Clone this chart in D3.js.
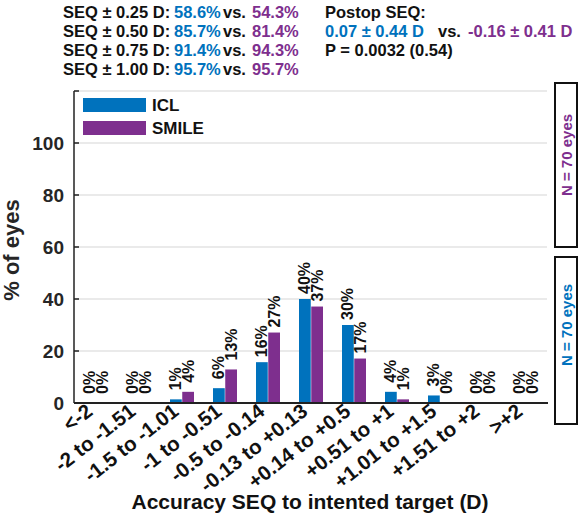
<!DOCTYPE html>
<html>
<head>
<meta charset="utf-8">
<script src="https://cdn.jsdelivr.net/npm/d3@7"></script>
<style>
  body { margin: 0; background: #fff; }
  text { font-family: "Liberation Sans", Arial, sans-serif; font-weight: bold; }
</style>
</head>
<body>
<div id="chart"></div>
<script>
var categories = ["<-2", "-2 to -1.51", "-1.5 to -1.01", "-1 to -0.51", "-0.5 to -0.14",
    "-0.13 to +0.13", "+0.14 to +0.5", "+0.51 to +1", "+1.01 to +1.5", "+1.51 to +2", ">+2"];
var series = ["ICL", "SMILE"];
var icl = [0, 0, 1.4, 5.7, 15.7, 40.0, 30.0, 4.3, 2.9, 0, 0];
var smile = [0, 0, 4.3, 12.9, 27.1, 37.1, 17.1, 1.4, 0, 0, 0];
var yTicks = [0, 20, 40, 60, 80, 100, 120];
var seqRows = [
    ["SEQ \u00b1 0.25 D:", "58.6%", "54.3%"],
    ["SEQ \u00b1 0.50 D:", "85.7%", "81.4%"],
    ["SEQ \u00b1 0.75 D:", "91.4%", "94.3%"],
    ["SEQ \u00b1 1.00 D:", "95.7%", "95.7%"]
];
var postop = ["0.07 \u00b1 0.44 D", "-0.16 \u00b1 0.41 D"];
var pText = "P = 0.0032 (0.54)";
var nText = "N = 70 eyes";

var colors = { ICL: "#0072BD", SMILE: "#7E2F8E" };

var svg = d3.select("#chart").append("svg")
    .attr("width", 581)
    .attr("height", 516);

var x = d3.scaleBand().domain(categories).range([74, 547]).padding(0);
var xs = d3.scaleBand().domain(series).range([0, 24]).paddingInner(0.04);
var xOff = (x.bandwidth() - 24) / 2 + 0.5;
var y = d3.scaleLinear().domain([0, 120]).range([403, 91]);

// gridlines
svg.append("g").selectAll("line")
    .data(yTicks.filter(function (d) { return d > 0; }))
    .enter().append("line")
    .attr("x1", 74).attr("x2", 547)
    .attr("y1", function (d) { return y(d); })
    .attr("y2", function (d) { return y(d); })
    .attr("stroke", "#e3e3e3")
    .attr("stroke-width", 1.5);

// bars
var rows = categories.map(function (c, i) {
    return { cat: c, vals: [{ s: "ICL", v: icl[i] }, { s: "SMILE", v: smile[i] }] };
});

var groups = svg.append("g").selectAll("g")
    .data(rows)
    .enter().append("g")
    .attr("transform", function (d) { return "translate(" + (x(d.cat) + xOff) + ",0)"; });

groups.selectAll("rect")
    .data(function (d) { return d.vals; })
    .enter().append("rect")
    .attr("x", function (d) { return xs(d.s); })
    .attr("width", xs.bandwidth())
    .attr("y", function (d) { return y(d.v); })
    .attr("height", function (d) { return y(0) - y(d.v); })
    .attr("fill", function (d) { return colors[d.s]; });

groups.selectAll("text")
    .data(function (d) { return d.vals; })
    .enter().append("text")
    .attr("transform", function (d) {
        var gap = d.v < 14 ? 9 : 5;
        return "translate(" + (xs(d.s) + xs.bandwidth() / 2) + "," + (y(d.v) - gap) + ") rotate(-90)";
    })
    .attr("dy", "0.35em")
    .attr("text-anchor", "start")
    .style("font-size", "16px")
    .attr("fill", "#111")
    .text(function (d) { return Math.round(d.v) + "%"; });

// axes
var yAxis = svg.append("g");
yAxis.append("line")
    .attr("x1", 74).attr("x2", 74).attr("y1", 91).attr("y2", 403)
    .attr("stroke", "#222").attr("stroke-width", 1.5);
yAxis.selectAll(".tick")
    .data(yTicks)
    .enter().append("line")
    .attr("x1", 74).attr("x2", 79)
    .attr("y1", function (d) { return y(d); })
    .attr("y2", function (d) { return y(d); })
    .attr("stroke", "#222").attr("stroke-width", 1.5);
yAxis.selectAll("text")
    .data(yTicks.filter(function (d) { return d <= 100; }))
    .enter().append("text")
    .attr("x", 64)
    .attr("y", function (d) { return y(d); })
    .attr("dy", "0.36em")
    .attr("text-anchor", "end")
    .style("font-size", "19px")
    .attr("fill", "#262626")
    .text(function (d) { return d; });

svg.append("line")
    .attr("x1", 74).attr("x2", 548).attr("y1", 403).attr("y2", 403)
    .attr("stroke", "#222").attr("stroke-width", 2);

svg.append("g").selectAll("text")
    .data(categories)
    .enter().append("text")
    .attr("transform", function (d) {
        return "translate(" + (x(d) + x.bandwidth() / 2 - 6) + ",408) rotate(-38)";
    })
    .attr("dy", "0.35em")
    .attr("text-anchor", "end")
    .style("font-size", "20.5px")
    .attr("fill", "#111")
    .text(function (d) { return d; });

svg.append("text")
    .attr("transform", "translate(19,250) rotate(-90)")
    .attr("text-anchor", "middle")
    .style("font-size", "22px")
    .attr("fill", "#262626")
    .text("% of eyes");

svg.append("text")
    .attr("x", 310).attr("y", 509)
    .attr("text-anchor", "middle")
    .style("font-size", "21px")
    .attr("fill", "#111")
    .text("Accuracy SEQ to intented target (D)");

// legend
series.forEach(function (s, i) {
    svg.append("rect")
        .attr("x", 83).attr("y", 98 + i * 23)
        .attr("width", 63).attr("height", 14)
        .attr("fill", colors[s]);
    svg.append("text")
        .attr("x", 152).attr("y", 105 + i * 23)
        .attr("dy", "0.36em")
        .style("font-size", "17px")
        .attr("fill", "#111")
        .text(s);
});

// N boxes
var boxes = [{ y0: 83, y1: 247, c: colors.SMILE, ty: 155 }, { y0: 257, y1: 424, c: colors.ICL, ty: 325 }];
boxes.forEach(function (b) {
    svg.append("rect")
        .attr("x", 555).attr("y", b.y0)
        .attr("width", 22).attr("height", b.y1 - b.y0)
        .attr("fill", "none").attr("stroke", "#111").attr("stroke-width", 2);
    svg.append("text")
        .attr("transform", "translate(567," + b.ty + ") rotate(-90)")
        .attr("dy", "0.36em")
        .attr("text-anchor", "middle")
        .style("font-size", "15px")
        .attr("fill", b.c)
        .text(nText);
});

// header stats
var head = svg.append("g").style("font-size", "16.5px");
seqRows.forEach(function (r, i) {
    var by = 18 + i * 19;
    head.append("text").attr("x", 63).attr("y", by).attr("fill", "#111").text(r[0]);
    head.append("text").attr("x", 174).attr("y", by).attr("fill", colors.ICL).text(r[1]);
    head.append("text").attr("x", 223).attr("y", by).attr("fill", "#111").text("vs.");
    head.append("text").attr("x", 252).attr("y", by).attr("fill", colors.SMILE).text(r[2]);
});
head.append("text").attr("x", 325).attr("y", 18).attr("fill", "#111").text("Postop SEQ:");
head.append("text").attr("x", 325).attr("y", 37).attr("fill", colors.ICL).text(postop[0]);
head.append("text").attr("x", 438).attr("y", 37).attr("fill", "#111").text("vs.");
head.append("text").attr("x", 468).attr("y", 37).attr("fill", colors.SMILE).text(postop[1]);
head.append("text").attr("x", 325).attr("y", 56).attr("fill", "#111").text(pText);
</script>
</body>
</html>
